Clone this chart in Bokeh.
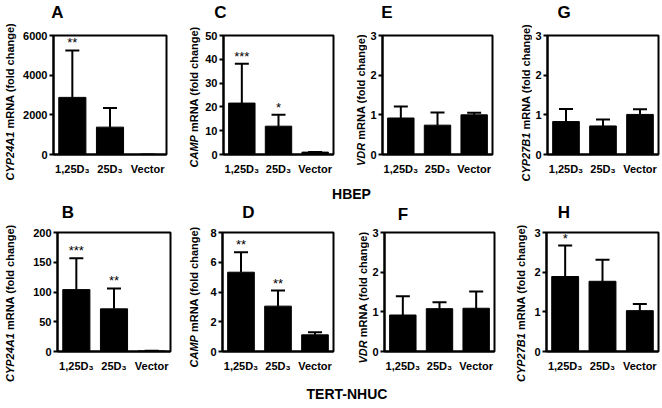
import math
from bokeh.plotting import figure
from bokeh.models import (FactorRange, Range1d, FixedTicker, Whisker, TeeHead,
                          Label, ColumnDataSource)
from bokeh.layouts import row, column
from bokeh.core.properties import value
from bokeh.embed import file_html
from bokeh.resources import INLINE

# ---------------- data ----------------
groups = ["1,25D\u2083", "25D\u2083", "Vector"]

# HBEP (top row)
hbep_cyp24a1_mean = [2880, 1380, 1.0]
hbep_cyp24a1_err = [2370, 960, 0.1]
hbep_cyp24a1_sig = ["**", "", ""]

hbep_camp_mean = [21.6, 11.9, 1.0]
hbep_camp_err = [16.5, 4.8, 0.1]
hbep_camp_sig = ["***", "*", ""]

hbep_vdr_mean = [0.92, 0.74, 1.00]
hbep_vdr_err = [0.29, 0.32, 0.05]
hbep_vdr_sig = ["", "", ""]

hbep_cyp27b1_mean = [0.83, 0.72, 1.01]
hbep_cyp27b1_err = [0.32, 0.16, 0.13]
hbep_cyp27b1_sig = ["", "", ""]

# TERT-NHUC (bottom row)
nhuc_cyp24a1_mean = [104, 71.7, 1.0]
nhuc_cyp24a1_err = [52.8, 34.2, 0.3]
nhuc_cyp24a1_sig = ["***", "**", ""]

nhuc_camp_mean = [5.33, 3.05, 1.12]
nhuc_camp_err = [1.35, 1.05, 0.18]
nhuc_camp_sig = ["**", "**", ""]

nhuc_vdr_mean = [0.92, 1.08, 1.09]
nhuc_vdr_err = [0.47, 0.16, 0.42]
nhuc_vdr_sig = ["", "", ""]

nhuc_cyp27b1_mean = [1.89, 1.77, 1.03]
nhuc_cyp27b1_err = [0.78, 0.54, 0.17]
nhuc_cyp27b1_sig = ["*", "", ""]

top_letters = ["A", "C", "E", "G"]
bottom_letters = ["B", "D", "F", "H"]

FONT = "Liberation Sans"
YLAB_REST = "\u00a0mRNA (fold change)"


def text_fig(w, h, items):
    """A blank canvas whose data units are pixels; items are text labels."""
    f = figure(width=w, height=h, x_range=Range1d(0, w), y_range=Range1d(0, h),
               x_axis_location=None, y_axis_location=None, min_border=0,
               toolbar_location=None, output_backend="svg")
    f.xgrid.visible = False
    f.ygrid.visible = False
    f.outline_line_color = None
    for it in items:
        f.add_layout(Label(x=it["x"], y=it["y"], text=it["text"],
                           angle=it.get("angle", 0),
                           text_align=it.get("align", "center"),
                           text_baseline="middle",
                           text_font=FONT,
                           text_font_style=it.get("style", "bold"),
                           text_font_size=it.get("size", "11px"),
                           text_color="black"))
    return f


def plot_fig(mean, err, sig, ymax, ticks, w, h, bl, br, bt, bb):
    src = ColumnDataSource(dict(
        group=groups, mean=mean,
        upper=[m + e for m, e in zip(mean, err)], sig=sig))
    p = figure(x_range=FactorRange(*groups, range_padding=0),
               y_range=Range1d(0, ymax), width=w, height=h,
               min_border_left=bl, min_border_right=br,
               min_border_top=bt, min_border_bottom=bb,
               toolbar_location=None, output_backend="svg")
    p.xgrid.visible = False
    p.ygrid.visible = False
    p.outline_line_color = "black"
    p.outline_line_width = 2
    p.outline_line_alpha = 1

    p.vbar(x="group", top="mean", width=0.72, source=src,
           fill_color="black", line_color="black")
    wh = Whisker(base="group", upper="upper", lower="mean", source=src,
                 dimension="height", line_color="black", line_width=2,
                 upper_head=TeeHead(size=14, line_width=2, line_color="black"),
                 lower_head=None)
    p.add_layout(wh)
    p.text(x="group", y="upper", text="sig", source=src,
           text_align="center", text_baseline="bottom",
           text_font=value(FONT), text_font_size="13px", text_color="black")

    xa = p.xaxis[0]
    xa.major_tick_line_color = None
    xa.minor_tick_line_color = None
    xa.axis_line_width = 2
    xa.axis_line_color = "black"
    xa.major_label_standoff = 2
    xa.major_label_text_font = FONT
    xa.major_label_text_font_style = "bold"
    xa.major_label_text_font_size = "11px"
    xa.major_label_text_color = "black"

    ya = p.yaxis[0]
    ya.ticker = FixedTicker(ticks=ticks)
    ya.minor_tick_line_color = None
    ya.major_tick_in = 0
    ya.major_tick_out = 4
    ya.major_tick_line_width = 2
    ya.axis_line_width = 2
    ya.axis_line_color = "black"
    ya.major_label_standoff = 2
    ya.major_label_text_font = FONT
    ya.major_label_text_font_style = "bold"
    ya.major_label_text_font_size = "11px"
    ya.major_label_text_color = "black"
    return p


def panel(mean, err, sig, ymax, ticks, gene, lay):
    """lay: label width, label x, split y, plot width, bl, br, height, bt, bb"""
    lw, lx, split, w, bl, br, H, bt, bb = lay
    lab = text_fig(lw, H, [
        dict(x=lx, y=split, text=gene, angle=math.pi / 2, align="right",
             style="bold italic"),
        dict(x=lx, y=split, text=YLAB_REST, angle=math.pi / 2,
             align="left", style="bold"),
    ])
    p = plot_fig(mean, err, sig, ymax, ticks, w, H, bl, br, bt, bb)
    return [lab, column(p)]


# top row: height 163
row1 = (panel(hbep_cyp24a1_mean, hbep_cyp24a1_err, hbep_cyp24a1_sig, 6000,
              [0, 2000, 4000, 6000], "CYP24A1",
              (18, 9, 53.9, 166, 35, 18, 163, 13, 31))
        + panel(hbep_camp_mean, hbep_camp_err, hbep_camp_sig, 50,
                [0, 10, 20, 30, 40, 50], "CAMP",
                (18, 9, 50.4, 151, 19, 20, 163, 13, 31))
        + panel(hbep_vdr_mean, hbep_vdr_err, hbep_vdr_sig, 3,
                [0, 1, 2, 3], "VDR",
                (14, 7, 42.7, 151, 13, 26, 163, 13, 31))
        + panel(hbep_cyp27b1_mean, hbep_cyp27b1_err, hbep_cyp27b1_sig, 3,
                [0, 1, 2, 3], "CYP27B1",
                (14, 7, 52.9, 128, 13, 2, 163, 13, 31)))

# bottom row: height 160
row2 = (panel(nhuc_cyp24a1_mean, nhuc_cyp24a1_err, nhuc_cyp24a1_sig, 200,
              [0, 50, 100, 150, 200], "CYP24A1",
              (18, 9, 50.4, 166, 39, 14, 160, 9, 32))
        + panel(nhuc_camp_mean, nhuc_camp_err, nhuc_camp_sig, 8,
                [0, 2, 4, 6, 8], "CAMP",
                (18, 9, 48.4, 153, 20, 22, 160, 9, 32))
        + panel(nhuc_vdr_mean, nhuc_vdr_err, nhuc_vdr_sig, 3,
                [0, 1, 2, 3], "VDR",
                (14, 7, 43.2, 142, 13, 17, 160, 9, 32))
        + panel(nhuc_cyp27b1_mean, nhuc_cyp27b1_err, nhuc_cyp27b1_sig, 3,
                [0, 1, 2, 3], "CYP27B1",
                (18, 9, 50.4, 131, 17, 2, 160, 9, 32)))

s_let1 = text_fig(660, 22, [
    dict(x=x, y=10, text=t, size="17px")
    for x, t in zip([57, 220, 386.5, 563.5], top_letters)])
s_hbep = text_fig(660, 17, [dict(x=351, y=9, text="HBEP", size="14px")])
s_let2 = text_fig(660, 21, [
    dict(x=x, y=y, text=t, size="17px")
    for x, y, t in zip([67.5, 248, 402.5, 563.5], [11.5, 11.5, 9.5, 11.5],
                       bottom_letters)])
s_tert = text_fig(660, 23, [dict(x=346.5, y=13, text="TERT-NHUC", size="14px")])

layout = column(s_let1, row(*row1), s_hbep, s_let2, row(*row2), s_tert)

open("out.html", "w").write(file_html(layout, INLINE))
